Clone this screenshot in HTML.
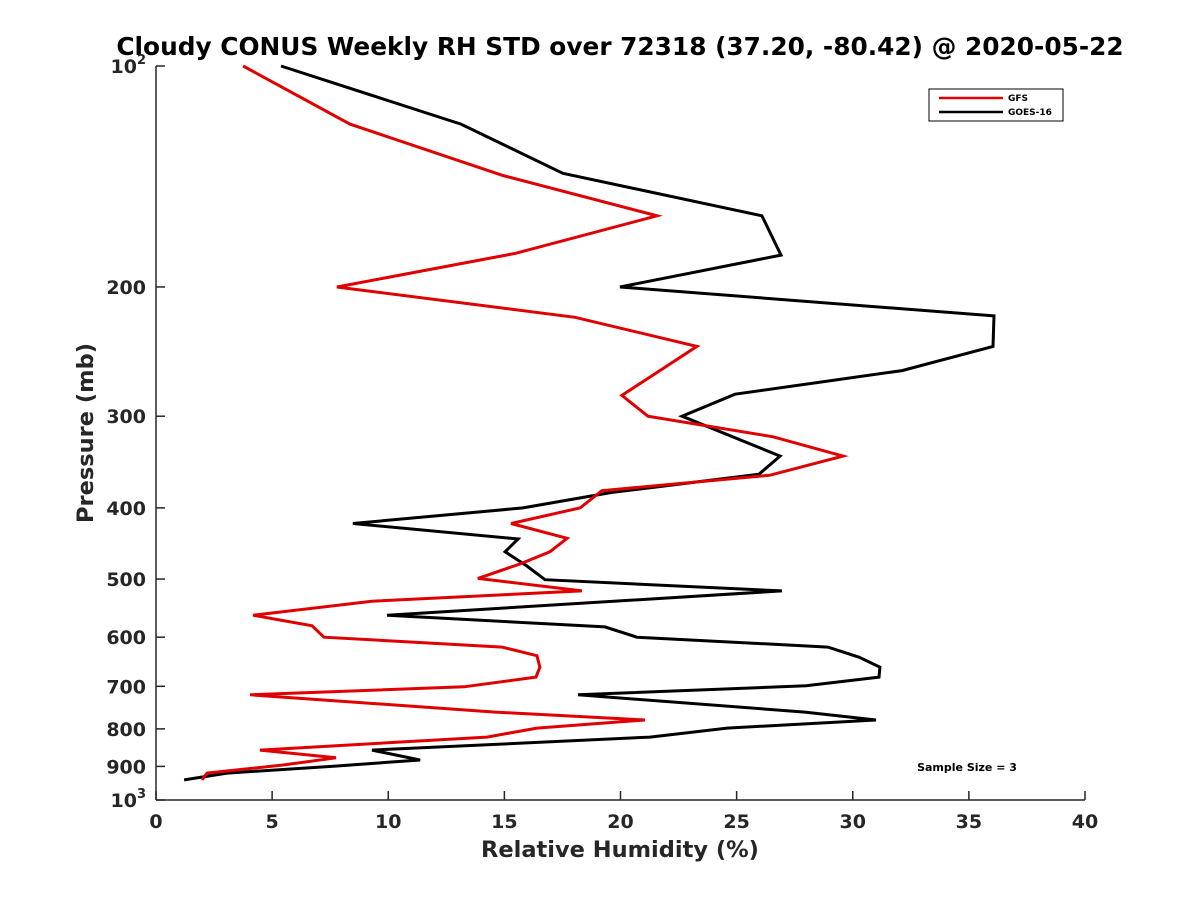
<!DOCTYPE html>
<html><head><meta charset="utf-8"><style>
html,body{margin:0;padding:0;background:#fff;}
svg{display:block;font-family:"DejaVu Sans","Liberation Sans",sans-serif;}
</style></head><body>
<svg id="chart" width="1200" height="900" viewBox="0 0 1200 900">
<rect width="1200" height="900" fill="#fff"/>
<text x="620" y="55" text-anchor="middle" font-size="24.8" font-weight="bold">Cloudy CONUS Weekly RH STD over 72318 (37.20, -80.42) @ 2020-05-22</text>
<g id="axes"></g>
<g id="series"></g>
<g>
<rect x="929" y="89" width="134" height="32" fill="#fff" stroke="#000" stroke-width="1"/>
<line x1="939" y1="98" x2="1003" y2="98" stroke="#e00000" stroke-width="2.5"/>
<text x="1008" y="101" font-size="9" font-weight="bold">GFS</text>
<line x1="939" y1="112" x2="1003" y2="112" stroke="#000" stroke-width="2.5"/>
<text x="1008" y="115" font-size="9" font-weight="bold">GOES-16</text>
</g>
<text x="967" y="771" text-anchor="middle" font-size="11" font-weight="bold">Sample Size = 3</text>
<text x="620" y="857" text-anchor="middle" font-size="22.5" font-weight="bold" fill="#262626">Relative Humidity (%)</text>
<text transform="translate(93,433) rotate(-90)" text-anchor="middle" font-size="22.5" font-weight="bold" fill="#262626">Pressure (mb)</text>
</svg>
<script>
const xTicks=[0,5,10,15,20,25,30,35,40];
const yTicks=[100,200,300,400,500,600,700,800,900,1000];
const gfsPressure=[100,120,141,160,180,200,220,241,281,300,320,340,361,379,400,420,440,459,477,499,519,536,560,579,600,619,636,659,680,701,719,759,778,798,821,855,876,896,919,939];
const gfsRH=[3.75,8.35,14.94,21.57,15.46,7.79,18.04,23.29,20.06,21.18,26.57,29.58,26.44,19.20,18.26,15.29,17.70,16.96,15.67,13.86,18.34,9.30,4.18,6.72,7.23,14.90,16.40,16.53,16.36,13.26,4.05,14.60,21.05,16.40,14.25,4.48,7.75,5.47,2.20,1.98];
const goesPressure=[100,120,140,160,181,200,219,241,260,280,300,340,360,381,400,420,441,459,480,501,519,560,581,600,619,639,659,680,699,719,759,778,798,821,855,882,899,919,939];
const goesRH=[5.38,13.13,17.52,26.09,26.91,19.98,36.08,36.04,32.12,24.93,22.65,26.87,25.96,19.63,15.80,8.48,15.59,15.03,15.97,16.75,26.95,9.95,19.33,20.71,28.93,30.27,31.17,31.13,27.99,18.17,27.94,31.00,24.59,21.27,9.30,11.37,7.71,3.06,1.21];

const NS="http://www.w3.org/2000/svg";
const X0=156,X1=1085,Y0=66,Y1=800;
function xs(v){return X0+(v-0)/(40-0)*(X1-X0);}
function ys(p){return Y0+(Math.log10(p)-2)*(Y1-Y0);}
function mk(tag,attrs,parent){const e=document.createElementNS(NS,tag);for(const k in attrs)e.setAttribute(k,attrs[k]);parent.appendChild(e);return e;}
const axes=document.getElementById('axes');
const xl=mk('line',{x1:X0,y1:Y1,x2:X1,y2:Y1,stroke:'#262626','stroke-width':1.5},axes);


const yl=mk('line',{x1:X0,y1:Y0,x2:X0,y2:Y1,stroke:'#262626','stroke-width':1.5},axes);


xTicks.forEach(t=>{
  const x=xs(t);
  const tk=mk('line',{x1:x,y1:Y1,x2:x,y2:Y1-9,stroke:'#262626','stroke-width':1.5},axes);
  
  
  const tx=mk('text',{x:x,y:Y1+28,'text-anchor':'middle','font-size':19,'font-weight':'bold',fill:'#262626'},axes);
  tx.textContent=t;
  
  
});
yTicks.forEach(t=>{
  const y=ys(t);
  const tk=mk('line',{x1:X0,y1:y,x2:X0+9,y2:y,stroke:'#262626','stroke-width':1.5},axes);
  
  
  const tx=mk('text',{x:X0-10,y:y+7,'text-anchor':'end','font-size':19,'font-weight':'bold',fill:'#262626'},axes);
  if(t===100||t===1000){
    tx.textContent='10';
    const s=mk('tspan',{dy:-9,'font-size':13},tx);
    s.textContent=t===100?'2':'3';
  } else tx.textContent=t;
  
  
});
const ser=document.getElementById('series');
function line(ps,vs,color,name){
  const pts=ps.map((p,i)=>xs(vs[i]).toFixed(1)+','+ys(p).toFixed(1)).join(' ');
  const pl=mk('polyline',{points:pts,fill:'none',stroke:color,'stroke-width':3,'stroke-linejoin':'miter'},ser);
  
  
}
line(goesPressure,goesRH,'#000','goes16-line');
line(gfsPressure,gfsRH,'#e00000','gfs-line');
</script>
</body></html>
